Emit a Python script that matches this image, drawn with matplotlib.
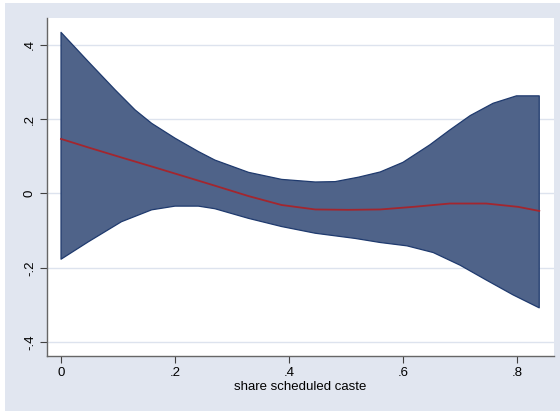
import numpy as np
import matplotlib
matplotlib.use('Agg')
import matplotlib.pyplot as plt
from matplotlib.patches import Rectangle

plt.rcParams['font.family'] = ['Liberation Sans', 'DejaVu Sans']

# upper bound of the confidence band
x_upper = [0.0, 0.048, 0.095, 0.130, 0.159, 0.200, 0.241, 0.270, 0.329, 0.387,
           0.446, 0.481, 0.522, 0.560, 0.600, 0.647, 0.682, 0.718, 0.758, 0.799, 0.839]
y_upper = [0.434, 0.355, 0.279, 0.225, 0.189, 0.149, 0.113, 0.090, 0.057, 0.038,
           0.031, 0.032, 0.044, 0.058, 0.084, 0.131, 0.171, 0.210, 0.243, 0.263, 0.263]

# lower bound of the confidence band
x_lower = [0.0, 0.048, 0.106, 0.159, 0.200, 0.241, 0.270, 0.329, 0.387, 0.446,
           0.516, 0.560, 0.607, 0.653, 0.700, 0.746, 0.793, 0.839]
y_lower = [-0.177, -0.130, -0.076, -0.044, -0.034, -0.034, -0.041, -0.067, -0.089, -0.107,
           -0.121, -0.132, -0.141, -0.159, -0.193, -0.233, -0.273, -0.308]

# fitted line
x_fit = [0.0, 0.048, 0.106, 0.165, 0.223, 0.270, 0.329, 0.387, 0.446, 0.504,
         0.560, 0.618, 0.682, 0.746, 0.802, 0.839]
y_fit = [0.147, 0.124, 0.097, 0.070, 0.043, 0.021, -0.007, -0.031, -0.043, -0.044,
         -0.043, -0.036, -0.027, -0.027, -0.036, -0.047]

xticks = [0, 0.2, 0.4, 0.6, 0.8]
xtick_labels = ['0', '.2', '.4', '.6', '.8']
yticks = [-0.4, -0.2, 0, 0.2, 0.4]
ytick_labels = ['-.4', '-.2', '0', '.2', '.4']

fig = plt.figure(figsize=(5.6, 4.12), dpi=100, facecolor='white')
# Stata-like light blue outer panel
fig.patches.append(Rectangle((5 / 560, 1 / 412), 1 - 5 / 560, 1 - 4 / 412,
                             transform=fig.transFigure, facecolor='#e1e6f0',
                             edgecolor='none', zorder=-10))

ax = fig.add_axes([47 / 560, 56 / 412, 507 / 560, 338 / 412])
ax.set_zorder(1)
ax.set_facecolor('white')

# band polygon: upper left-to-right, lower right-to-left
poly_x = x_upper + x_lower[::-1]
poly_y = y_upper + y_lower[::-1]
ax.fill(poly_x, poly_y, facecolor='#4f6389', edgecolor='#1f3a6e', linewidth=0.9,
        joinstyle='round', zorder=2)
ax.plot(x_fit, y_fit, color='#a3262e', linewidth=1.3, solid_joinstyle='round', zorder=3)

ax.set_xlim(-0.0246, 0.8649)
ax.set_ylim(-0.4377, 0.4727)

for yt in yticks:
    ax.axhline(yt, color='#dde3ee', linewidth=1.0, zorder=1)

ax.set_xticks(xticks)
ax.set_xticklabels(xtick_labels)
ax.set_yticks(yticks)
ax.set_yticklabels(ytick_labels, rotation=90, va='center')
ax.tick_params(direction='out', length=5, width=0.8, color='#404040', labelsize=9.5, pad=3)

for side in ['top', 'right']:
    ax.spines[side].set_visible(False)
for side in ['left', 'bottom']:
    ax.spines[side].set_color('#666666')
    ax.spines[side].set_linewidth(1.0)

ax.set_xlabel('share scheduled caste', fontsize=9.5, labelpad=1)

plt.savefig('out.png', dpi=100, facecolor=fig.get_facecolor())
